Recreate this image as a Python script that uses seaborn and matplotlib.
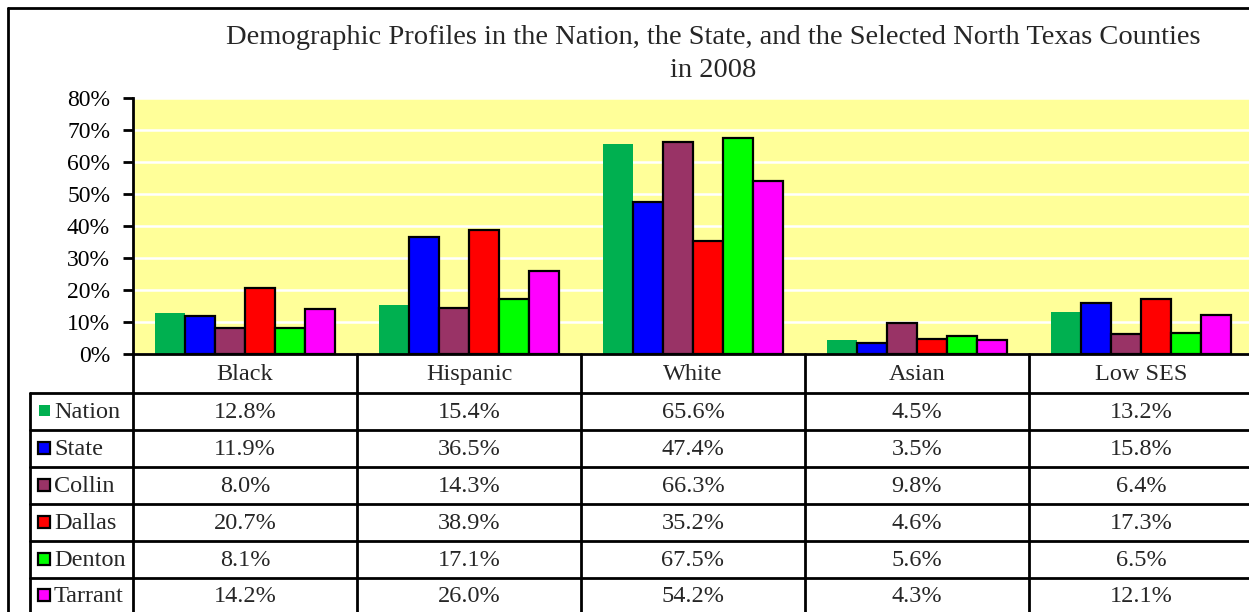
import matplotlib
matplotlib.use("Agg")
import matplotlib.pyplot as plt
from matplotlib.patches import Rectangle
from matplotlib.ticker import FuncFormatter
import seaborn as sns
import pandas as pd

categories = ["Black", "Hispanic", "White", "Asian", "Low SES"]
regions = ["Nation", "State", "Collin", "Dallas", "Denton", "Tarrant"]
nation = [12.8, 15.4, 65.6, 4.5, 13.2]
state = [11.9, 36.5, 47.4, 3.5, 15.8]
collin = [8.0, 14.3, 66.3, 9.8, 6.4]
dallas = [20.7, 38.9, 35.2, 4.6, 17.3]
denton = [8.1, 17.1, 67.5, 5.6, 6.5]
tarrant = [14.2, 26.0, 54.2, 4.3, 12.1]
series = [nation, state, collin, dallas, denton, tarrant]
colors = ["#00B050", "#0000FF", "#993366", "#FF0000", "#00FF00", "#FF00FF"]
yticks = [0, 10, 20, 30, 40, 50, 60, 70, 80]
title_lines = ["Demographic Profiles in the Nation, the State, and the Selected North Texas Counties",
               "in 2008"]

rows = []
for r, vals in zip(regions, series):
    for c, v in zip(categories, vals):
        rows.append({"Category": c, "Region": r, "Value": v})
df = pd.DataFrame(rows)

sns.set_style("white")
plt.rcParams["font.family"] = ["Liberation Serif", "DejaVu Serif"]

W, H = 1249, 612
fig = plt.figure(figsize=(W / 100, H / 100), dpi=100)
fig.patch.set_facecolor("white")

# main plot area (pixel layout)
L, R, T, B = 133, 1253, 98, 354
ax = fig.add_axes([L / W, 1 - B / H, (R - L) / W, (B - T) / H])
ax.set_facecolor("#FFFF99")

sns.barplot(data=df, x="Category", y="Value", hue="Region", order=categories,
            hue_order=regions, palette=colors, saturation=1, width=0.8,
            legend=False, ax=ax, errorbar=None, zorder=3)
for i, cont in enumerate(ax.containers):
    for bar in cont:
        if i == 0:
            bar.set_edgecolor("none")
            bar.set_linewidth(0)
        else:
            bar.set_edgecolor("black")
            bar.set_linewidth(1.6)

ax.set_xlim(-0.5, len(categories) - 0.5)
ax.set_ylim(0, 80)
ax.set_yticks(yticks)
ax.yaxis.set_major_formatter(FuncFormatter(lambda v, p: f"{int(v)}%"))
ax.set_xticks([])
ax.set_xlabel("")
ax.set_ylabel("")
ax.grid(axis="y", color="white", linewidth=1.8)
ax.set_axisbelow(True)
for s in ["top", "right", "bottom"]:
    ax.spines[s].set_visible(False)
ax.spines["left"].set_color("black")
ax.spines["left"].set_linewidth(2)
ax.tick_params(axis="y", left=True, length=7.5, width=2, direction="out",
               labelsize=17, pad=9, colors="black")

# overlay in pixel coordinates for the data table and frame
ov = fig.add_axes([0, 0, 1, 1], zorder=5)
ov.set_xlim(0, W)
ov.set_ylim(H, 0)
ov.axis("off")
ov.patch.set_alpha(0)

fig.canvas.draw()
# column boundaries from the main axes category scale
to_px = lambda xd: ov.transData.inverted().transform(ax.transData.transform((xd, 0)))[0]
col_edges = [to_px(i - 0.5) for i in range(len(categories) + 1)]
col_centers = [to_px(i) for i in range(len(categories))]

lw = 2
hdr_top, hdr_bot = B, 393
row_h = 36.9
row_tops = [hdr_bot + i * row_h for i in range(len(regions) + 1)]
left_col = 30

# outer frame
ov.plot([8, 8], [8, H + 5], color="black", lw=lw, clip_on=False)
ov.plot([8, W + 5], [8, 8], color="black", lw=lw, clip_on=False)

# horizontal lines
ov.plot([L, W + 5], [hdr_top, hdr_top], color="black", lw=lw)
for y in row_tops:
    ov.plot([left_col, W + 5], [y, y], color="black", lw=lw)
# vertical lines
ov.plot([left_col, left_col], [hdr_bot, H + 5], color="black", lw=lw)
for x in col_edges:
    ov.plot([x, x], [hdr_top, H + 5], color="black", lw=lw)

fs = 17.5
for c, xc in zip(categories, col_centers):
    ov.text(xc, (hdr_top + hdr_bot) / 2 + 1, c, ha="center", va="center", fontsize=fs)
for i, (r, vals, col) in enumerate(zip(regions, series, colors)):
    yc = row_tops[i] + row_h / 2
    if i == 0:
        ov.add_patch(Rectangle((39, yc - 6), 11, 11, facecolor=col, edgecolor="none"))
    else:
        ov.add_patch(Rectangle((38, yc - 6.5), 12, 12, facecolor=col, edgecolor="black", lw=1.6))
    ov.text(54, yc + 1, r, ha="left", va="center", fontsize=fs)
    for v, xc in zip(vals, col_centers):
        ov.text(xc, yc + 1, f"{v:.1f}%", ha="center", va="center", fontsize=fs)

ov.text(713, 44, title_lines[0], ha="center", va="baseline", fontsize=20.5)
ov.text(713, 77, title_lines[1], ha="center", va="baseline", fontsize=20.5)

fig.savefig("out.png", dpi=100)
